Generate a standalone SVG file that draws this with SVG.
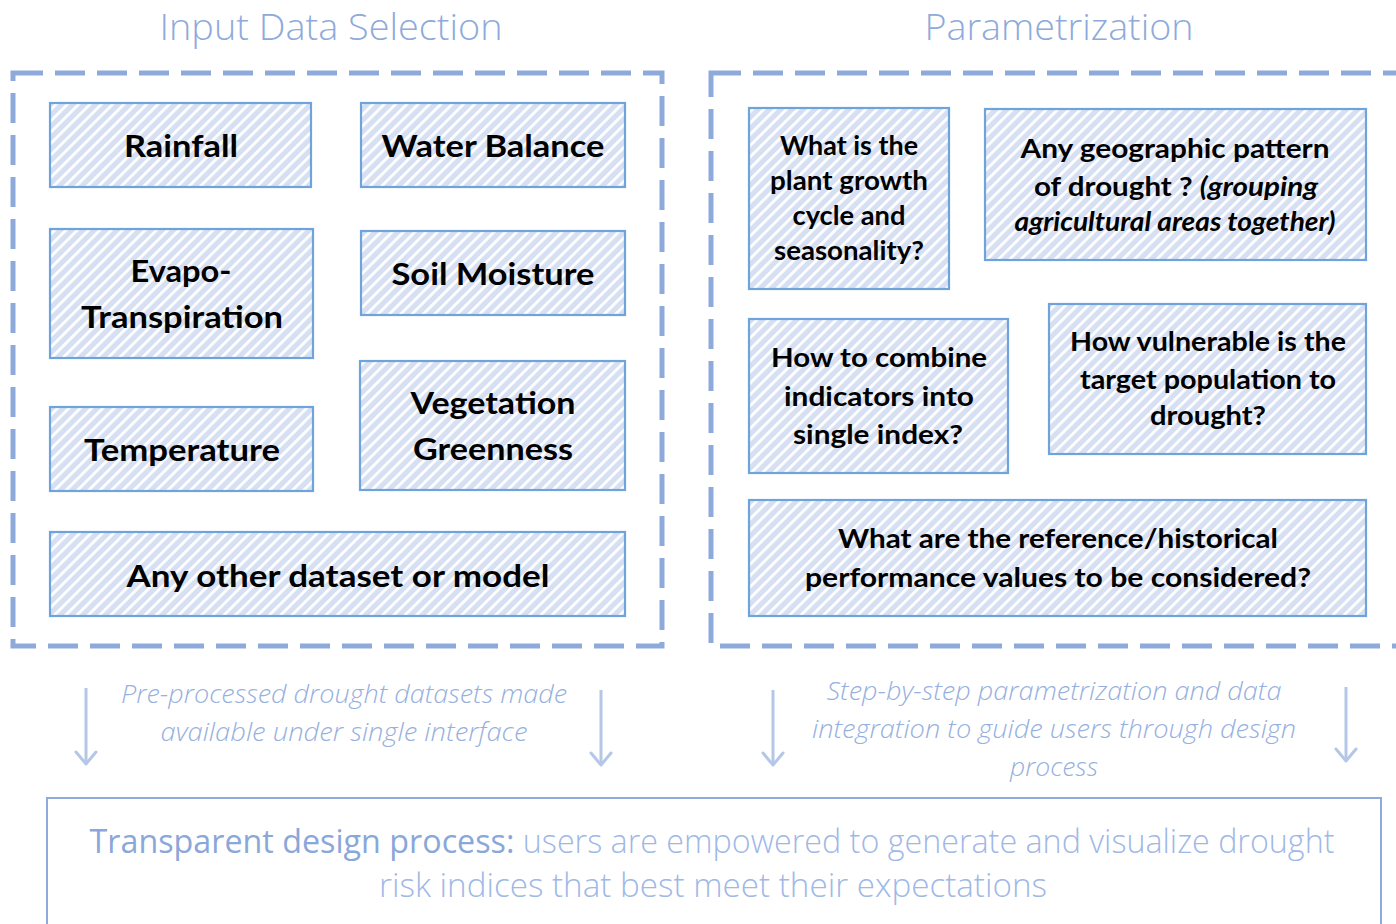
<svg xmlns="http://www.w3.org/2000/svg" width="1396" height="924" viewBox="0 0 1396 924">
<defs>
<pattern id="hatch" width="8" height="8" patternUnits="userSpaceOnUse" patternTransform="rotate(45)">
<rect width="8" height="8" fill="#d6e0f2"/>
<rect x="0" y="0" width="2.8" height="8" fill="#ffffff"/>
</pattern>
<marker id="chev" markerWidth="24" markerHeight="24" refX="15" refY="12" orient="auto" markerUnits="userSpaceOnUse" viewBox="0 0 24 24">
<path d="M3,2 L15,12 L3,22" fill="none" stroke="#b4c7e7" stroke-width="3" stroke-linecap="round" stroke-linejoin="round"/>
</marker>
<style>
.box{fill:url(#hatch);stroke:#6fa3dc;stroke-width:2.2}
.cont{fill:none;stroke:#8eaadb;stroke-width:5;stroke-dasharray:30 12}
.t1{font-family:Lato,"Open Sans","Liberation Sans",sans-serif;font-weight:700;font-size:30px;fill:#000;text-anchor:middle}
.t2{font-family:Lato,"Open Sans","Liberation Sans",sans-serif;font-weight:700;font-size:26px;fill:#000;text-anchor:middle}
.ti{font-style:italic}
.title{font-family:"Open Sans","Liberation Sans",sans-serif;font-weight:300;font-size:36px;fill:#8eaadb;text-anchor:middle}
.note{font-family:"Open Sans","Liberation Sans",sans-serif;font-weight:300;font-style:italic;font-size:25px;fill:#96b0e0;text-anchor:middle}
.bot{font-family:"Open Sans","Liberation Sans",sans-serif;font-weight:300;font-size:33px;fill:#a0b8e6;text-anchor:middle}
.botb{fill:#8aa7da;font-weight:400}
.arr{stroke:#b4c7e7;stroke-width:3;fill:none;marker-end:url(#chev)}
</style>
</defs>
<rect width="1396" height="924" fill="#ffffff"/>

<g id="titles">
<text class="title" x="331" y="40" textLength="343" lengthAdjust="spacingAndGlyphs">Input Data Selection</text>
<text class="title" x="1059" y="40" textLength="269" lengthAdjust="spacingAndGlyphs">Parametrization</text>
</g>

<g id="container-input"><rect class="cont" x="13" y="73" width="649" height="573"/></g>
<g id="container-param"><rect class="cont" x="711" y="73" width="720" height="573"/></g>

<g id="rainfall"><rect class="box" x="50" y="103" width="261" height="84"/>
<text class="t1" x="181" y="157" textLength="114" lengthAdjust="spacingAndGlyphs">Rainfall</text></g>
<g id="water-balance"><rect class="box" x="361" y="103" width="264" height="84"/>
<text class="t1" x="493" y="157" textLength="223" lengthAdjust="spacingAndGlyphs">Water Balance</text></g>
<g id="evapo"><rect class="box" x="50" y="229" width="263" height="129"/>
<text class="t1" x="181" y="282" textLength="101" lengthAdjust="spacingAndGlyphs">Evapo-</text>
<text class="t1" x="182" y="328" textLength="202" lengthAdjust="spacingAndGlyphs">Transpiration</text></g>
<g id="soil-moisture"><rect class="box" x="361" y="231" width="264" height="84"/>
<text class="t1" x="493" y="285" textLength="203" lengthAdjust="spacingAndGlyphs">Soil Moisture</text></g>
<g id="temperature"><rect class="box" x="50" y="407" width="263" height="84"/>
<text class="t1" x="182" y="461" textLength="196" lengthAdjust="spacingAndGlyphs">Temperature</text></g>
<g id="vegetation"><rect class="box" x="360" y="361" width="265" height="129"/>
<text class="t1" x="493" y="414" textLength="165" lengthAdjust="spacingAndGlyphs">Vegetation</text>
<text class="t1" x="493" y="460" textLength="160" lengthAdjust="spacingAndGlyphs">Greenness</text></g>
<g id="other"><rect class="box" x="50" y="532" width="575" height="84"/>
<text class="t1" x="338" y="587" textLength="423" lengthAdjust="spacingAndGlyphs">Any other dataset or model</text></g>

<g id="plant-growth"><rect class="box" x="749" y="108" width="200" height="181"/>
<text class="t2" x="849" y="155" textLength="138" lengthAdjust="spacingAndGlyphs">What is the</text>
<text class="t2" x="849" y="190" textLength="158" lengthAdjust="spacingAndGlyphs">plant growth</text>
<text class="t2" x="849" y="225" textLength="113" lengthAdjust="spacingAndGlyphs">cycle and</text>
<text class="t2" x="849" y="260" textLength="150" lengthAdjust="spacingAndGlyphs">seasonality?</text></g>
<g id="geographic"><rect class="box" x="985" y="109" width="381" height="151"/>
<text class="t2" x="1175" y="158" textLength="309" lengthAdjust="spacingAndGlyphs">Any geographic pattern</text>
<text class="t2" x="1176" y="196" textLength="284" lengthAdjust="spacingAndGlyphs">of drought ? <tspan class="ti">(grouping</tspan></text>
<text class="t2 ti" x="1175" y="231" textLength="321" lengthAdjust="spacingAndGlyphs">agricultural areas together)</text></g>
<g id="combine"><rect class="box" x="749" y="319" width="259" height="154"/>
<text class="t2" x="879" y="367" textLength="216" lengthAdjust="spacingAndGlyphs">How to combine</text>
<text class="t2" x="879" y="406" textLength="190" lengthAdjust="spacingAndGlyphs">indicators into</text>
<text class="t2" x="878" y="444" textLength="170" lengthAdjust="spacingAndGlyphs">single index?</text></g>
<g id="vulnerable"><rect class="box" x="1049" y="304" width="317" height="150"/>
<text class="t2" x="1208" y="351" textLength="276" lengthAdjust="spacingAndGlyphs">How vulnerable is the</text>
<text class="t2" x="1208" y="389" textLength="256" lengthAdjust="spacingAndGlyphs">target population to</text>
<text class="t2" x="1208" y="425" textLength="116" lengthAdjust="spacingAndGlyphs">drought?</text></g>
<g id="reference"><rect class="box" x="749" y="500" width="617" height="116"/>
<text class="t2" x="1058" y="548" textLength="440" lengthAdjust="spacingAndGlyphs">What are the reference/historical</text>
<text class="t2" x="1058" y="587" textLength="506" lengthAdjust="spacingAndGlyphs">performance values to be considered?</text></g>

<g id="connectors">
<line class="arr" x1="86" y1="688" x2="86" y2="764"/>
<line class="arr" x1="601" y1="690" x2="601" y2="765"/>
<line class="arr" x1="773" y1="690" x2="773" y2="765"/>
<line class="arr" x1="1346" y1="687" x2="1346" y2="761"/>
</g>

<g id="notes">
<text class="note" x="344" y="703" textLength="446" lengthAdjust="spacingAndGlyphs">Pre-processed drought datasets made</text>
<text class="note" x="344" y="741" textLength="367" lengthAdjust="spacingAndGlyphs">available under single interface</text>
<text class="note" x="1054" y="700" textLength="455" lengthAdjust="spacingAndGlyphs">Step-by-step parametrization and data</text>
<text class="note" x="1054" y="738" textLength="484" lengthAdjust="spacingAndGlyphs">integration to guide users through design</text>
<text class="note" x="1054" y="776" textLength="88" lengthAdjust="spacingAndGlyphs">process</text>
</g>

<g id="outcome">
<rect x="47" y="798" width="1334" height="150" fill="none" stroke="#8faadc" stroke-width="2"/>
<text class="bot" x="712" y="853" textLength="1245" lengthAdjust="spacingAndGlyphs"><tspan class="botb">Transparent design process:</tspan> users are empowered to generate and visualize drought</text>
<text class="bot" x="713" y="897" textLength="668" lengthAdjust="spacingAndGlyphs">risk indices that best meet their expectations</text>
</g>
</svg>
